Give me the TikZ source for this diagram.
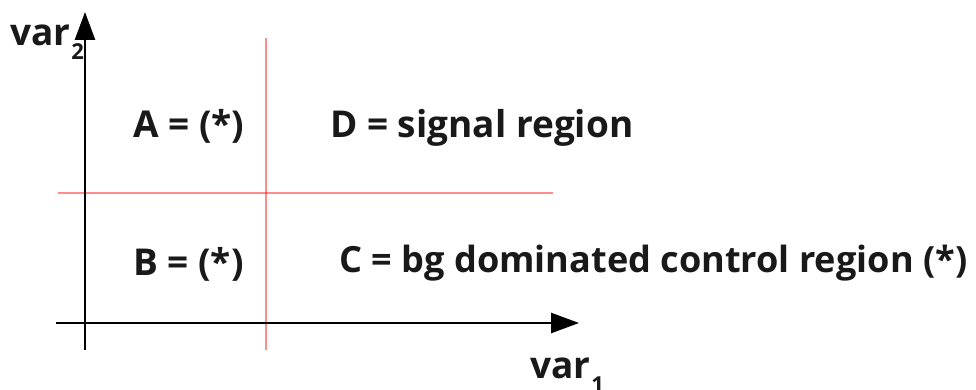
\documentclass[tikz,border=0pt]{standalone}
\usepackage{fontspec}
\setmainfont{Open Sans}
\usetikzlibrary{arrows.meta}
\newcommand{\subdigit}[1]{\raisebox{-14pt}{\fontsize{22}{24}\selectfont #1}}
\tikzset{
  axis/.style={line width=2.6pt,-{Triangle[length=28pt,width=20pt]}},
  cut/.style={line width=1.8pt,red,opacity=0.45},
  lbl/.style={anchor=base west,inner sep=0pt,font=\fontsize{37}{40}\selectfont\bfseries,text=black!90},
}
\begin{document}
\begin{tikzpicture}[x=1pt,y=-1pt]
\useasboundingbox (0,0) rectangle (976,390);
% cut lines
\coordinate (vt) at (266,38);
\coordinate (vb) at (266,350);
\coordinate (hl) at (58,193);
\coordinate (hr) at (553,193);
\draw[cut] (vt) -- (vb);
\draw[cut] (hl) -- (hr);
% axes
\coordinate (yb) at (85,350);
\coordinate (yt) at (85,12);
\coordinate (xl) at (56,323);
\coordinate (xr) at (579,323);
\draw[axis] (yb) -- (yt);
\draw[axis] (xl) -- (xr);
% labels
\node[lbl] (v2) at (10,46) {var\kern1pt\subdigit{2}};
\node[lbl] (v1) at (530,378) {var\kern1pt\subdigit{1}};
\node[lbl] (A) at (133,138) {A = (*)};
\node[lbl] (D) at (330,138) {D = signal region};
\node[lbl] (B) at (133,275) {B = (*)};
\node[lbl,font=\fontsize{36.1}{40}\selectfont\bfseries] (C) at (339,272) {C = bg dominated control region (*)};
\end{tikzpicture}
\end{document}
